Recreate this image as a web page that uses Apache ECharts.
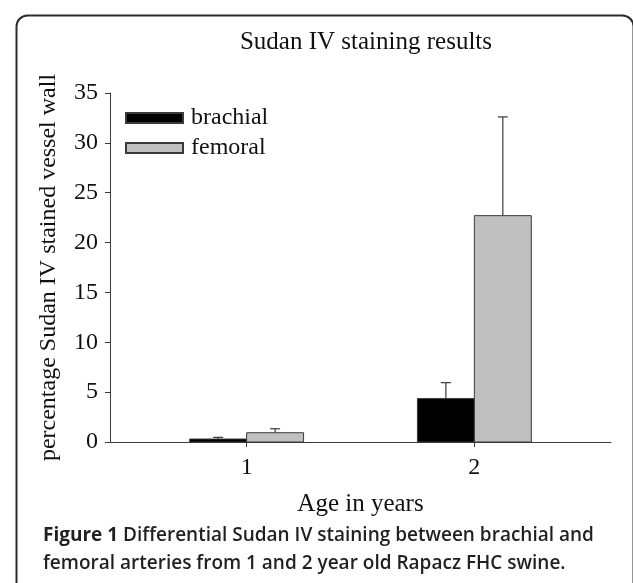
<!DOCTYPE html>
<html>
<head>
<meta charset="utf-8">
<script src="https://cdn.jsdelivr.net/npm/echarts@6/dist/echarts.min.js"></script>
<style>
html,body{margin:0;padding:0;background:#fff;}
#chart{width:633px;height:583px;}
</style>
</head>
<body>
<div id="chart"></div>
<script>
// Data
const titleText = 'Sudan IV staining results';
const ages = [1, 2];
const ageLabels = ['1', '2'];
const seriesNames = ['brachial', 'femoral'];
const brachialMean = [0.3, 4.35];
const brachialUpper = [0.47, 5.95];
const femoralMean = [0.93, 22.7];
const femoralUpper = [1.33, 32.6];
const yTicks = [0, 5, 10, 15, 20, 25, 30, 35];
const xAxisName = 'Age in years';
const yAxisName = 'percentage Sudan IV stained vessel wall';
const captionBold = 'Figure 1';
const captionLine1 = ' Differential Sudan IV staining between brachial and';
const captionLine2 = 'femoral arteries from 1 and 2 year old Rapacz FHC swine.';

const serif = 'Liberation Serif';
const txt = '#111';
const axisCol = '#3a3a3a';

function makeRender(off0, off1) {
  return function (params, api) {
    const x = api.value(0), m = api.value(1), u = api.value(2);
    const p0 = api.coord([x + off0, 0]);
    const p1 = api.coord([x + off1, m]);
    const pc = api.coord([x + (off0 + off1) / 2, m]);
    const pu = api.coord([x + (off0 + off1) / 2, u]);
    const style = api.style();
    return {
      type: 'group',
      children: [
        { type: 'rect', shape: { x: p0[0], y: p1[1], width: p1[0] - p0[0], height: p0[1] - p1[1] },
          style: { fill: style.fill, stroke: '#3a3a3a', lineWidth: 1 } },
        { type: 'line', shape: { x1: pc[0], y1: pc[1], x2: pu[0], y2: pu[1] },
          style: { stroke: '#3a3a3a', lineWidth: 1.2 } },
        { type: 'line', shape: { x1: pu[0] - 5, y1: pu[1], x2: pu[0] + 5, y2: pu[1] },
          style: { stroke: '#3a3a3a', lineWidth: 1.2 } }
      ]
    };
  };
}

const chart = echarts.init(document.getElementById('chart'), null, { renderer: 'canvas' });
const option = {
  animation: false,
  backgroundColor: '#fff',
  title: {
    text: titleText, left: 361, textAlign: 'center', top: 25,
    textStyle: { fontFamily: serif, fontSize: 25, fontWeight: 'normal', color: txt }
  },
  legend: {
    orient: 'vertical', left: 120, top: 101, itemWidth: 57, itemHeight: 10, itemGap: 6,
    icon: 'rect',
    data: seriesNames,
    textStyle: { fontFamily: serif, fontSize: 24, color: txt, padding: [0, 0, 0, 3] }
  },
  grid: { left: 110, right: 22, top: 93, bottom: 141 },
  xAxis: {
    type: 'value', min: 0.4, max: 2.6,
    name: xAxisName, nameLocation: 'middle', nameGap: 50,
    nameTextStyle: { fontFamily: serif, fontSize: 25, color: txt },
    axisLine: { show: true, lineStyle: { color: axisCol, width: 1 } },
    axisTick: { show: true, length: 5, customValues: ages, lineStyle: { color: axisCol } },
    axisLabel: { customValues: ages, formatter: v => ageLabels[ages.indexOf(v)], fontFamily: serif, fontSize: 24, color: txt, margin: 14 },
    splitLine: { show: false }
  },
  yAxis: {
    type: 'value', min: 0, max: 35, interval: 5,
    name: yAxisName, nameLocation: 'middle', nameGap: 49, nameRotate: 90,
    nameTextStyle: { fontFamily: serif, fontSize: 24, color: txt },
    axisLine: { show: true, lineStyle: { color: axisCol, width: 1 } },
    axisTick: { show: true, length: 5, lineStyle: { color: axisCol } },
    axisLabel: { fontFamily: serif, fontSize: 24, color: txt, margin: 12,
      formatter: v => yTicks.indexOf(v) >= 0 ? String(v) : '' },
    splitLine: { show: false }
  },
  series: [
    {
      name: seriesNames[0], type: 'custom', clip: false,
      itemStyle: { color: '#000000', borderColor: '#3a3a3a', borderWidth: 1 },
      renderItem: makeRender(-0.25, 0),
      encode: { x: 0, y: [1, 2] },
      data: ages.map((a, i) => [a, brachialMean[i], brachialUpper[i]])
    },
    {
      name: seriesNames[1], type: 'custom', clip: false,
      itemStyle: { color: '#c0c0c0', borderColor: '#3a3a3a', borderWidth: 1 },
      renderItem: makeRender(0, 0.25),
      encode: { x: 0, y: [1, 2] },
      data: ages.map((a, i) => [a, femoralMean[i], femoralUpper[i]])
    }
  ],
  graphic: [
    { type: 'rect', left: 14, top: 13, shape: { x: 0, y: 0, width: 617, height: 620, r: 11 },
      style: { fill: 'none', stroke: '#2a2a2a', lineWidth: 2 }, z: 100, silent: true },
    { type: 'text', x: 43, y: 547, z: 100,
      style: { text: '{b|' + captionBold + '}' + captionLine1, fontFamily: 'Open Sans', fontSize: 19, fontWeight: 600,
        fill: '#231f20', verticalAlign: 'bottom', lineHeight: 22,
        rich: { b: { fontFamily: 'Open Sans', fontSize: 19, fontWeight: 'bold', fill: '#231f20' } } } },
    { type: 'text', x: 43, y: 575, z: 100,
      style: { text: captionLine2, fontFamily: 'Open Sans', fontSize: 19, fontWeight: 600,
        fill: '#231f20', verticalAlign: 'bottom', lineHeight: 22 } }
  ]
};
chart.setOption(option);
</script>
</body>
</html>
